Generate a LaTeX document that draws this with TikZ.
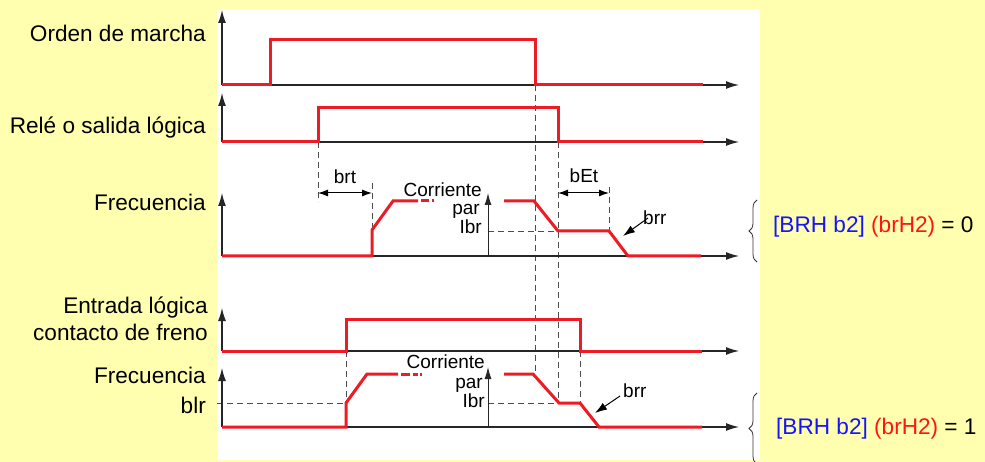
\documentclass[tikz,border=0pt]{standalone}
\usepackage{fontspec}
\setmainfont{Liberation Sans}
\usetikzlibrary{arrows.meta,decorations.pathreplacing}
\definecolor{bgyel}{RGB}{255,255,175}
\definecolor{sig}{RGB}{237,28,36}
\definecolor{lblue}{RGB}{20,20,255}
\definecolor{lred}{RGB}{255,20,20}
\begin{document}
\begin{tikzpicture}[x=1pt,y=-1pt,
  axis/.style={line width=1.2pt, black!85, -{Latex[length=13pt,width=8pt]}},
  curarrow/.style={line width=1pt, black!85, -{Latex[length=12pt,width=7pt]}},
  sigline/.style={sig, line width=3pt, line join=miter},
  dashln/.style={black!70, line width=0.9pt, dash pattern=on 6pt off 4pt},
  dimarrow/.style={line width=1pt, black, {Latex[length=10pt,width=7pt]}-{Latex[length=10pt,width=7pt]}},
  ptrarrow/.style={line width=1pt, black, -{Latex[length=12pt,width=8pt]}},
  lbl/.style={font=\fontsize{22.6}{26}\selectfont, inner sep=0pt},
  sml/.style={font=\fontsize{19}{22}\selectfont, inner sep=0pt},
  bracestyle/.style={decorate, decoration={brace, amplitude=8pt}, line width=0.8pt, black!80}]
\fill[bgyel] (0,0) rectangle (985,462);
\useasboundingbox (0,0) rectangle (985,462);
\fill[white] (217,9) rectangle (760,460);

% dashed guide lines
\draw[dashln] (318,142) -- (318,202);
\draw[dashln] (372,183) -- (372,230);
\draw[dashln] (535,85) -- (535,373);
\draw[dashln] (558,142) -- (558,403);
\draw[dashln] (609,187) -- (609,231);
\draw[dashln] (488,231) -- (558,231);
\draw[dashln] (346,351) -- (346,403);
\draw[dashln] (580,351) -- (580,403);
\draw[dashln] (217,403) -- (346,403);
\draw[dashln] (488,403) -- (580,403);

% axes
\foreach \b/\t in {85/10, 142/93, 256/193, 351/308, 427/368}{
  \draw[axis] (222,\b) -- (222,\t);
  \draw[axis] (222,\b) -- (739,\b);
}

% current arrows
\draw[curarrow] (488,256) -- (488,193);
\draw[curarrow] (488,427) -- (488,367);

% signals
\draw[sigline] (222,85) -- (270,85) -- (270,40) -- (535,40) -- (535,85) -- (703,85);
\draw[sigline] (222,142) -- (318,142) -- (318,108) -- (558,108) -- (558,142) -- (703,142);
\draw[sigline] (222,256) -- (372,256) -- (372,230) -- (393,201) -- (418,201);
\draw[sigline] (421,201) -- (429,201);
\draw[sigline] (432,201) -- (434,201);
\draw[sigline] (504,201) -- (534,201) -- (558,231) -- (609,231) -- (628,256) -- (701,256);
\draw[sigline] (222,351) -- (346,351) -- (346,319) -- (580,319) -- (580,351) -- (702,351);
\draw[sigline] (222,427) -- (346,427) -- (346,403) -- (367,374) -- (398,374);
\draw[sigline] (401,374) -- (410,374);
\draw[sigline] (413,374) -- (418,374);
\draw[sigline] (420,374) -- (422,374);
\draw[sigline] (504,374) -- (533,374) -- (559,403) -- (580,403) -- (599,427) -- (702,427);

% dimension arrows
\draw[dimarrow] (318,193) -- (372,193);
\draw[dimarrow] (558,193) -- (609,193);
\node[sml, anchor=base] (brt) at (345,184) {brt};
\node[sml, anchor=base] (bEt) at (584,183) {bEt};

% brr pointers
\node[sml, anchor=base west] (brr1) at (643,225) {brr};
\node[sml, anchor=base west] (brr2) at (623,397) {brr};
\coordinate (p1) at (623,236);
\coordinate (p2) at (595,413);
\draw[ptrarrow] (648,218) -- (p1);
\draw[ptrarrow] (620,396) -- (p2);

% current labels
\node[sml, anchor=base east] (cor1) at (482,197) {Corriente};
\node[sml, anchor=base east] (par1) at (480,215) {par};
\node[sml, anchor=base east] (ibr1) at (482,234) {Ibr};
\node[sml, anchor=base east] (cor2) at (485,368) {Corriente};
\node[sml, anchor=base east] (par2) at (483,388) {par};
\node[sml, anchor=base east] (ibr2) at (485,407) {Ibr};

% left labels
\node[lbl, anchor=base east] (l1) at (206,42) {Orden de marcha};
\node[lbl, anchor=base east] (l2) at (206,134) {Relé o salida lógica};
\node[lbl, anchor=base east] (l3) at (206,211) {Frecuencia};
\node[lbl, anchor=base east] (l4) at (208,313) {Entrada lógica};
\node[lbl, anchor=base east] (l5) at (208,340) {contacto de freno};
\node[lbl, anchor=base east] (l6) at (206,383) {Frecuencia};
\node[lbl, anchor=base east] (l7) at (206,413) {blr};

% braces
\draw[bracestyle] (757,262) -- (757,200);
\draw[bracestyle] (757,464) -- (757,393);

% right labels
\node[lbl, anchor=base west] (r1) at (773,233) {\textcolor{lblue}{[BRH b2]} \textcolor{lred}{(brH2)} = 0};
\node[lbl, anchor=base west] (r2) at (776,434) {\textcolor{lblue}{[BRH b2]} \textcolor{lred}{(brH2)} = 1};
\end{tikzpicture}
\end{document}
